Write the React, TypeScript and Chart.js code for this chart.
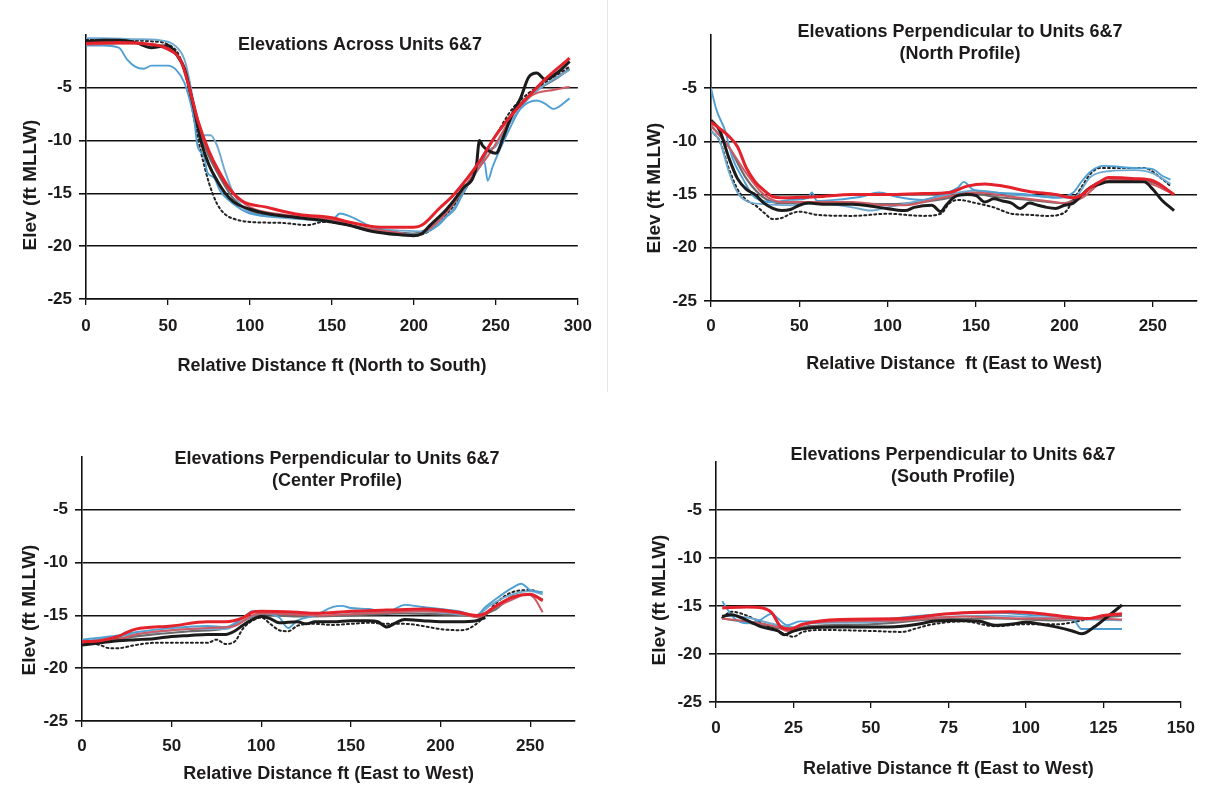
import React, { useEffect, useRef } from "react";
import { Chart, registerables } from "chart.js";

Chart.register(...registerables);

const FONT = '"Liberation Sans", Arial, Helvetica, sans-serif';

// ---------- Panel 1: Elevations Across Units 6&7 (North to South) ----------
const acrossRed: number[][] = [[0,-0.8],[20,-0.7],[40,-0.9],[50,-1.3],[58,-2.5],[63,-5],[68,-8],[75,-11],[85,-14],[95,-15.7],[110,-16.3],[130,-17],[150,-17.3],[160,-17.7],[180,-18.2],[200,-18.2],[205,-18],[215,-16.5],[225,-15],[240,-12],[250,-9.5],[260,-7.5],[270,-5.8],[280,-4.2],[295,-2.2]];
const acrossBlack: number[][] = [[0,-0.6],[10,-0.5],[20,-0.5],[30,-0.7],[40,-1.2],[45,-1.1],[50,-1.0],[55,-1.8],[60,-3.2],[63,-5],[66,-7],[70,-10],[75,-12.3],[80,-13.8],[85,-15],[90,-15.8],[100,-16.5],[110,-16.9],[130,-17.3],[150,-17.7],[160,-18.0],[175,-18.6],[190,-18.9],[200,-19.0],[205,-18.8],[210,-18.0],[220,-16.5],[230,-14.5],[238,-12.5],[240,-10.0],[242,-10.5],[246,-11],[250,-11.2],[255,-9.5],[260,-7.5],[265,-6.0],[270,-4.0],[275,-3.6],[280,-4.2],[288,-3.5],[295,-2.5]];
const acrossRose: number[][] = [[0,-0.9],[30,-0.8],[50,-1.4],[60,-3],[65,-6],[72,-10],[80,-12.5],[90,-15],[100,-16.3],[120,-17],[150,-17.5],[170,-18.3],[190,-18.7],[200,-19],[210,-18.3],[220,-16.8],[235,-13.5],[245,-11.5],[255,-9],[265,-6.5],[275,-5.5],[285,-5.2],[295,-4.9]];
const acrossBlue: number[][] = [[0,-1.0],[10,-1.0],[20,-1.2],[25,-2.3],[30,-3.0],[35,-3.2],[40,-2.9],[50,-2.9],[55,-3.3],[60,-4.5],[63,-6],[66,-8],[68,-10.5],[72,-11.5],[74,-13],[78,-13.5],[82,-14.8],[90,-16],[100,-16.9],[120,-17.2],[140,-17.3],[150,-17.5],[155,-16.9],[160,-17.1],[175,-18.2],[190,-18.7],[200,-18.9],[210,-18.5],[215,-18.0],[220,-17.2],[225,-16.5],[230,-15],[240,-12.5],[243,-12],[245,-13.8],[248,-12.5],[252,-11],[258,-9],[265,-7],[275,-6.2],[280,-6.5],[285,-7],[295,-6]];
const acrossSky: number[][] = [[0,-0.3],[10,-0.3],[30,-0.4],[45,-0.5],[55,-1.1],[60,-2.3],[64,-5],[67,-8],[70,-9.5],[76,-9.5],[80,-10.5],[85,-13],[90,-15],[100,-16.8],[120,-17.3],[150,-17.7],[170,-18.3],[190,-18.5],[205,-18.6],[215,-17.8],[225,-16.3],[235,-13.5],[245,-11],[250,-10.5],[255,-9.2],[260,-8],[270,-6],[280,-4.7],[295,-3.3]];
const acrossDotted: number[][] = [[0,-0.4],[20,-0.5],[40,-0.6],[50,-0.9],[57,-2],[62,-4.5],[66,-8],[70,-11],[75,-14],[80,-16],[85,-17],[90,-17.4],[100,-17.7],[120,-17.8],[135,-18.0],[145,-17.7],[160,-18.0],[175,-18.6],[190,-18.9],[200,-19],[210,-18.5],[220,-17],[230,-15],[240,-12],[250,-9.5],[260,-7],[270,-5.5],[280,-4.5],[290,-3.5],[295,-3]];
const acrossGray: number[][] = [[0,-0.7],[20,-0.6],[40,-0.9],[50,-1.2],[58,-2.5],[63,-5],[68,-8.5],[75,-11.5],[80,-13],[90,-15.5],[100,-16.7],[120,-17.2],[150,-17.6],[170,-18.4],[190,-18.7],[200,-18.8],[210,-18.2],[220,-16.8],[230,-14.8],[240,-12.5],[245,-11],[250,-10.5],[255,-9],[265,-6.5],[275,-5.2],[285,-4.3],[295,-3.2]];

// ---------- Panel 2: North Profile ----------
const northRed: number[][] = [[0,-8.2],[5,-8.8],[10,-9.5],[15,-10.5],[20,-12.5],[25,-13.8],[30,-14.6],[35,-15.2],[40,-15.3],[60,-15.2],[80,-15.0],[100,-15.0],[120,-14.9],[135,-14.8],[145,-14.2],[155,-14.0],[165,-14.2],[180,-14.7],[195,-15],[205,-15.3],[210,-15],[215,-14.3],[220,-13.8],[225,-13.4],[240,-13.5],[250,-13.7],[262,-15]];
const northBlack: number[][] = [[0,-8],[5,-9],[10,-11.5],[15,-13.5],[20,-14.5],[25,-15],[30,-15.8],[35,-16.3],[40,-16.5],[45,-16.4],[50,-16.0],[55,-15.8],[65,-15.9],[80,-15.9],[95,-16.2],[110,-16.5],[115,-16.2],[125,-16.0],[130,-16.6],[133,-16.0],[138,-15.2],[145,-15],[150,-15.1],[155,-15.7],[160,-15.4],[165,-15.6],[170,-15.8],[175,-16.3],[180,-15.8],[185,-16.0],[190,-16.2],[195,-16.3],[200,-16],[205,-15.8],[210,-15],[215,-14.3],[220,-14],[225,-13.8],[235,-13.8],[245,-13.8],[250,-14.5],[255,-15.5],[262,-16.5]];
const northRose: number[][] = [[0,-8.5],[10,-10.5],[20,-13],[30,-15],[40,-15.7],[60,-15.7],[80,-15.7],[100,-16],[110,-16],[125,-15.5],[140,-15],[150,-14.8],[170,-15.2],[190,-15.6],[200,-15.8],[210,-15.3],[220,-14],[230,-13.6],[245,-13.8],[255,-14.4],[262,-15]];
const northBlue: number[][] = [[0,-5],[3,-7],[8,-9],[12,-11.5],[18,-13.5],[25,-15.3],[35,-15.7],[45,-15.5],[55,-15.3],[57,-14.8],[60,-15.6],[70,-15.5],[85,-15.2],[95,-14.8],[105,-15.2],[120,-15.5],[130,-15.0],[140,-14.3],[143,-13.8],[148,-14.5],[160,-14.8],[180,-15],[195,-15.3],[205,-14.8],[210,-13.7],[215,-12.8],[222,-12.3],[240,-12.5],[250,-12.6],[255,-13.2],[260,-13.6]];
const northSky: number[][] = [[0,-9],[5,-10],[10,-12.8],[15,-14.8],[20,-15.6],[30,-15.9],[45,-16],[60,-15.8],[80,-16.2],[90,-16.5],[100,-16.2],[120,-15.5],[140,-14.8],[150,-14.6],[170,-15],[190,-15.2],[205,-15.3],[215,-13.3],[225,-12.8],[240,-12.7],[250,-13],[260,-14]];
const northDotted: number[][] = [[0,-9],[5,-10],[10,-12.5],[15,-14.5],[20,-15.5],[25,-16],[30,-16.7],[35,-17.3],[40,-17.2],[45,-16.8],[50,-16.6],[60,-16.9],[80,-17],[100,-16.8],[120,-17.0],[130,-16.8],[135,-15.8],[140,-15.5],[150,-15.8],[160,-16.2],[170,-16.8],[180,-16.9],[190,-17],[200,-16.7],[205,-15.5],[210,-14.2],[215,-13],[220,-12.5],[235,-12.5],[245,-12.5],[255,-13.5],[260,-14.2]];
const northGray: number[][] = [[0,-8.5],[10,-10.5],[20,-13.5],[30,-15.3],[40,-15.8],[60,-15.7],[80,-15.8],[100,-15.9],[120,-15.7],[135,-15.3],[145,-14.8],[160,-15.2],[180,-15.5],[200,-15.8],[210,-15],[220,-13.8],[240,-13.6],[255,-14.2],[262,-15]];

// ---------- Panel 3: Center Profile ----------
const centerRed: number[][] = [[0,-17.5],[10,-17.4],[20,-17.0],[25,-16.6],[30,-16.3],[50,-16.0],[70,-15.6],[80,-15.6],[90,-15.2],[95,-14.7],[100,-14.6],[120,-14.7],[130,-14.8],[150,-14.6],[170,-14.5],[190,-14.4],[210,-14.7],[220,-15],[225,-14.8],[230,-14.2],[240,-13.3],[250,-13.0],[257,-13.6]];
const centerBlack: number[][] = [[0,-17.8],[10,-17.6],[20,-17.4],[30,-17.3],[40,-17.2],[50,-17.0],[60,-16.9],[70,-16.8],[80,-16.8],[85,-16.5],[90,-15.9],[95,-15.4],[100,-15.1],[105,-15.3],[110,-15.7],[120,-15.6],[125,-15.8],[130,-15.6],[140,-15.6],[150,-15.5],[160,-15.5],[165,-15.6],[170,-16.1],[175,-15.7],[180,-15.4],[190,-15.5],[200,-15.6],[210,-15.6],[220,-15.5],[225,-15.2]];
const centerRose: number[][] = [[0,-17.7],[20,-17.3],[30,-16.8],[50,-16.4],[70,-16.2],[85,-16],[95,-15],[100,-14.8],[130,-15],[160,-14.8],[190,-14.6],[210,-14.8],[222,-15.2],[228,-14.5],[240,-13.5],[248,-13],[252,-13.3],[257,-14.7]];
const centerBlue: number[][] = [[0,-17.3],[10,-17.1],[20,-16.9],[30,-16.6],[50,-16.2],[70,-16],[80,-16.1],[90,-15.2],[95,-14.6],[100,-14.7],[110,-15.2],[115,-16.2],[120,-15.5],[130,-15],[140,-14.2],[145,-14.1],[150,-14.3],[160,-14.4],[170,-14.7],[180,-14.0],[190,-14.2],[200,-14.4],[210,-14.6],[220,-15.0],[225,-14.2],[232,-13.3],[240,-12.4],[245,-12.0],[250,-12.6],[257,-12.8]];
const centerSky: number[][] = [[0,-17.5],[20,-17.0],[40,-16.6],[60,-16.3],[80,-16.3],[90,-15.5],[100,-14.8],[130,-14.8],[160,-14.7],[190,-14.6],[220,-15],[228,-14],[240,-13],[250,-12.7],[257,-13.0]];
const centerDotted: number[][] = [[0,-17.6],[10,-17.8],[15,-18.1],[20,-18.1],[30,-17.8],[40,-17.6],[50,-17.6],[60,-17.6],[70,-17.6],[75,-17.3],[80,-17.7],[85,-17.5],[90,-16.2],[95,-15.5],[100,-15.2],[105,-15.8],[110,-16.4],[115,-16.5],[120,-16.0],[130,-15.8],[140,-15.9],[150,-15.8],[160,-15.7],[170,-15.8],[180,-15.8],[190,-16.0],[200,-16.3],[210,-16.4],[215,-16.3],[220,-15.8],[225,-15.0],[230,-14.0],[240,-12.8],[250,-12.6],[255,-12.8]];
const centerGray: number[][] = [[0,-17.7],[20,-17.2],[40,-16.8],[60,-16.5],[80,-16.2],[90,-15.5],[100,-14.9],[120,-15.1],[150,-15.0],[180,-14.8],[200,-14.9],[220,-15.0],[230,-14.5],[240,-13.2],[250,-13.0],[257,-13.5]];

// ---------- Panel 4: South Profile ----------
const southRed: number[][] = [[2,-15.2],[10,-15.1],[15,-15.2],[18,-15.7],[21,-17.2],[24,-17.4],[28,-16.9],[40,-16.4],[60,-16.3],[75,-15.8],[95,-15.6],[105,-15.8],[115,-16.2],[120,-16.3],[125,-16.0],[131,-15.8]];
const southBlack: number[][] = [[2,-16.1],[5,-15.9],[10,-16.5],[15,-17.2],[20,-17.6],[22,-18.0],[25,-17.6],[30,-17.3],[40,-17.2],[50,-17.2],[60,-17.1],[65,-16.9],[70,-16.6],[75,-16.5],[85,-16.6],[90,-17.0],[95,-16.9],[100,-16.7],[105,-16.9],[110,-17.2],[115,-17.6],[118,-17.9],[122,-17.2],[126,-16.2],[131,-14.9]];
const southRose: number[][] = [[2,-16.3],[10,-16.6],[20,-17.2],[23,-17.6],[27,-17.0],[40,-16.6],[60,-16.5],[80,-16.1],[100,-16.3],[110,-16.3],[120,-16.3],[131,-16.4]];
const southBlue: number[][] = [[2,-14.5],[4,-15.5],[6,-16.3],[10,-16.8],[14,-16.5],[18,-15.8],[20,-16.3],[23,-17.0],[27,-16.6],[35,-16.6],[50,-16.5],[70,-15.9],[90,-15.7],[105,-16.0],[115,-16.3],[118,-17.4],[131,-17.4]];
const southSky: number[][] = [[2,-16],[10,-16.2],[20,-17],[25,-17.2],[30,-16.8],[50,-16.7],[70,-16.2],[90,-16.0],[110,-16.3],[120,-16.4],[131,-16.5]];
const southDotted: number[][] = [[2,-16.2],[5,-15.6],[10,-16],[15,-16.8],[20,-17.6],[25,-18.2],[28,-17.7],[35,-17.5],[50,-17.6],[60,-17.7],[65,-17.3],[70,-16.9],[80,-16.6],[90,-17.1],[100,-16.9],[110,-16.9],[118,-16.5],[122,-16.2]];
const southGray: number[][] = [[2,-16.3],[10,-16.7],[20,-17.3],[25,-17.4],[30,-17.1],[50,-16.9],[70,-16.4],[90,-16.3],[110,-16.5],[120,-16.3],[131,-16.0]];

// ---------- Axis ticks and text ----------
const yTicks = [0, -5, -10, -15, -20, -25];
const xTicksAcross = [0, 50, 100, 150, 200, 250, 300];
const xTicksNorth = [0, 50, 100, 150, 200, 250];
const xTicksCenter = [0, 50, 100, 150, 200, 250];
const xTicksSouth = [0, 25, 50, 75, 100, 125, 150];
const yAxisTitle = "Elev (ft MLLW)";

type Series = number[][];
interface PanelSpec {
  left: number; top: number; width: number; height: number; bottomH: number;
  xMax: number; xTicks: number[]; xTitle: string; xTitlePad: number; xTickPad: number;
  yTitleX: number; yTitleY: number;
  titleLines: string[]; titleX: number; titleYs: number[];
  series: Series[];
}

const STYLES = [
  { color: "#e3222c", width: 3.0, dash: [] as number[] },   // red
  { color: "#1b1b1b", width: 3.0, dash: [] as number[] },   // black
  { color: "#cf5a63", width: 2.0, dash: [] as number[] },   // rose
  { color: "#4f9fd3", width: 1.9, dash: [] as number[] },   // blue
  { color: "#6fa9cf", width: 1.9, dash: [] as number[] },   // sky
  { color: "#222222", width: 2.0, dash: [2, 3] },           // dotted
  { color: "#6e6a6c", width: 2.2, dash: [] as number[] },   // gray
];

const panels: PanelSpec[] = [
  { left: 6, top: 0, width: 597, height: 379, bottomH: 80, xMax: 300, xTicks: xTicksAcross,
    xTitle: "Relative Distance ft (North to South)", xTitlePad: 2, xTickPad: 11,
    yTitleX: 25, yTitleY: 185,
    titleLines: ["Elevations Across Units 6&7"], titleX: 354, titleYs: [45],
    series: [acrossRed, acrossBlack, acrossRose, acrossBlue, acrossSky, acrossDotted, acrossGray] },
  { left: 631, top: 0, width: 586, height: 381, bottomH: 80, xMax: 275, xTicks: xTicksNorth,
    xTitle: "Relative Distance  ft (East to West)", xTitlePad: 6, xTickPad: 9,
    yTitleX: 24, yTitleY: 188,
    titleLines: ["Elevations Perpendicular to Units 6&7", "(North Profile)"], titleX: 329, titleYs: [32, 54],
    series: [northRed, northBlack, northRose, northBlue, northSky, northDotted, northGray] },
  { left: 2, top: 422, width: 593, height: 364, bottomH: 65, xMax: 275, xTicks: xTicksCenter,
    xTitle: "Relative Distance ft (East to West)", xTitlePad: 1, xTickPad: 9,
    yTitleX: 28, yTitleY: 188,
    titleLines: ["Elevations Perpendicular to Units 6&7", "(Center Profile)"], titleX: 335, titleYs: [37, 59],
    series: [centerRed, centerBlack, centerRose, centerBlue, centerSky, centerDotted, centerGray] },
  { left: 636, top: 427, width: 569, height: 355, bottomH: 80, xMax: 150, xTicks: xTicksSouth,
    xTitle: "Relative Distance ft (East to West)", xTitlePad: 2, xTickPad: 10,
    yTitleX: 24, yTitleY: 173,
    titleLines: ["Elevations Perpendicular to Units 6&7", "(South Profile)"], titleX: 317, titleYs: [28, 50],
    series: [southRed, southBlack, southRose, southBlue, southSky, southDotted, southGray] },
];

const panelTextPlugin = {
  id: "panelText",
  afterDraw(chart: any, _args: any, opts: any) {
    const ctx = chart.ctx;
    ctx.save();
    ctx.fillStyle = "#1d1a1a";
    ctx.textAlign = "center";
    ctx.textBaseline = "middle";
    ctx.font = `bold 18px ${FONT}`;
    (opts.lines || []).forEach((l: string, i: number) => ctx.fillText(l, opts.x, opts.ys[i]));
    ctx.translate(opts.yTitleX, opts.yTitleY);
    ctx.rotate(-Math.PI / 2);
    ctx.font = `bold 19px ${FONT}`;
    ctx.fillText(opts.yTitle, 0, 0);
    ctx.restore();
  },
};

function Panel({ spec }: { spec: PanelSpec }) {
  const ref = useRef<HTMLCanvasElement | null>(null);
  useEffect(() => {
    if (!ref.current) return;
    const datasets = spec.series.map((s, i) => ({
      data: s.map(([x, y]) => ({ x, y })),
      borderColor: STYLES[i].color,
      borderWidth: STYLES[i].width,
      borderDash: STYLES[i].dash,
      borderCapStyle: (STYLES[i].dash.length ? "round" : "butt") as any,
      pointRadius: 0,
      fill: false,
      cubicInterpolationMode: "monotone" as const,
    }));
    const chart = new Chart(ref.current, {
      type: "line",
      data: { datasets },
      plugins: [panelTextPlugin as any],
      options: {
        animation: false,
        responsive: false,
        maintainAspectRatio: false,
        layout: { padding: { top: 35, right: 20, left: 0, bottom: 0 } },
        plugins: {
          legend: { display: false },
          tooltip: { enabled: false },
          panelText: {
            lines: spec.titleLines, x: spec.titleX, ys: spec.titleYs,
            yTitle: yAxisTitle, yTitleX: spec.yTitleX, yTitleY: spec.yTitleY,
          },
        } as any,
        scales: {
          x: {
            type: "linear",
            min: 0,
            max: spec.xMax,
            afterBuildTicks: (sc: any) => { sc.ticks = spec.xTicks.map((v) => ({ value: v })); },
            afterFit: (sc: any) => { sc.height = spec.bottomH; },
            grid: { drawOnChartArea: false, drawTicks: true, tickLength: 6, color: "#111", lineWidth: 1.3 },
            border: { color: "#111", width: 1.6 },
            ticks: { color: "#1d1a1a", font: { family: FONT, size: 17, weight: "bold" }, padding: spec.xTickPad, maxRotation: 0, autoSkip: false },
            title: { display: true, text: spec.xTitle, color: "#1d1a1a", font: { family: FONT, size: 18, weight: "bold" }, padding: { top: 0, bottom: spec.xTitlePad } },
          },
          y: {
            type: "linear",
            min: -25,
            max: 0,
            afterBuildTicks: (sc: any) => { sc.ticks = yTicks.map((v) => ({ value: v })); },
            afterFit: (sc: any) => { sc.width = 80; },
            grid: {
              drawTicks: true,
              tickLength: 7,
              color: (c: any) => (c.tick && c.tick.value === 0 ? "rgba(0,0,0,0)" : "#111"),
              lineWidth: 1.6,
            },
            border: { color: "#111", width: 1.6 },
            ticks: {
              color: "#1d1a1a",
              font: { family: FONT, size: 17, weight: "bold" },
              padding: 7,
              callback: (v: any) => (Number(v) === 0 ? "" : String(v)),
            },
            title: { display: false },
          },
        },
      } as any,
    });
    return () => chart.destroy();
  }, [spec]);
  return (
    <canvas
      ref={ref}
      width={spec.width}
      height={spec.height}
      style={{ position: "absolute", left: spec.left, top: spec.top, width: spec.width, height: spec.height }}
    />
  );
}

export default function App() {
  return (
    <div style={{ position: "absolute", left: 0, top: 0, width: 1220, height: 786, background: "#fff", overflow: "hidden" }}>
      <div style={{ position: "absolute", left: 607, top: 0, width: 1, height: 392, background: "#e6e6e6" }} />
      {panels.map((p, i) => (
        <Panel key={i} spec={p} />
      ))}
    </div>
  );
}
